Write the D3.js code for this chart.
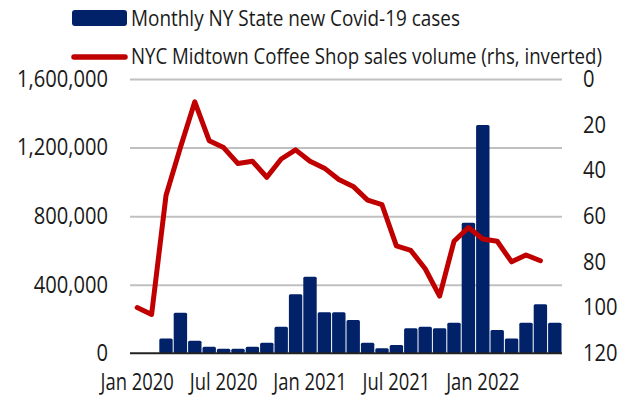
<!DOCTYPE html>
<html>
<head>
<meta charset="utf-8">
<script src="https://cdn.jsdelivr.net/npm/d3@7"></script>
<style>
  html, body { margin: 0; padding: 0; background: #fff; }
  svg { display: block; }
  text { font-family: "Open Sans", "Noto Sans", sans-serif; fill: #1a1a1a; }
</style>
</head>
<body>
<svg id="chart" width="638" height="400"></svg>
<script>
const months = ["Jan 2020","Feb 2020","Mar 2020","Apr 2020","May 2020","Jun 2020","Jul 2020","Aug 2020","Sep 2020","Oct 2020","Nov 2020","Dec 2020",
                "Jan 2021","Feb 2021","Mar 2021","Apr 2021","May 2021","Jun 2021","Jul 2021","Aug 2021","Sep 2021","Oct 2021","Nov 2021","Dec 2021",
                "Jan 2022","Feb 2022","Mar 2022","Apr 2022","May 2022","Jun 2022"];
const cases = [0,0,87000,237000,73000,38000,27000,27000,38000,62000,155000,344000,
               447000,239000,239000,194000,62000,29000,48000,146000,155000,146000,178000,762000,
               1332000,136000,87000,178000,286000,178000];
const sales = [100,103,51,30,10,27,30,37,36,43,35,31,
               36,39,44,47,53,55,73,75,83,95,71,65,
               70,71,80,77,79.5,null];
const xTickLabels = ["Jan 2020","Jul 2020","Jan 2021","Jul 2021","Jan 2022"];
const leftTicks = [0,400000,800000,1200000,1600000];
const rightTicks = [0,20,40,60,80,100,120];
const seriesNames = ["Monthly NY State new Covid-19 cases","NYC Midtown Coffee Shop sales volume (rhs, inverted)"];

const NAVY = "#012169", RED = "#c00000", GRID = "#c0c0c0";
const svg = d3.select("#chart");
const L = 130, R = 562, T = 79, B = 353.3;
const FS = 23;

function squeeze(sel, k) {
  sel.attr("font-size", FS).attr("font-family", null).attr("fill", "#1a1a1a")
    .attr("textLength", function() { return this.getComputedTextLength() * k; })
    .attr("lengthAdjust", "spacingAndGlyphs");
}

const x = d3.scaleBand().domain(months).range([L, R]).padding(0);
const y = d3.scaleLinear().domain([0, 1600000]).range([B, T]);
const y2 = d3.scaleLinear().domain([0, 120]).range([T, B]);

// gridlines
svg.append("g").attr("transform", `translate(${L},0)`)
  .call(d3.axisLeft(y).tickValues(leftTicks.filter(d => d > 0)).tickSize(-(R - L)).tickFormat(""))
  .call(g => g.select(".domain").remove())
  .call(g => g.selectAll("line").attr("stroke", GRID).attr("stroke-width", 2));

// bars
svg.append("g").selectAll("rect").data(months.map((m, i) => ({m, v: cases[i]})).filter(d => d.v > 0))
  .join("rect")
  .attr("x", d => x(d.m) + 0.5)
  .attr("width", x.bandwidth() - 1)
  .attr("y", d => y(d.v))
  .attr("height", d => B - y(d.v))
  .attr("rx", 1.5)
  .attr("fill", NAVY);

// baseline
svg.append("line").attr("x1", L).attr("x2", R).attr("y1", B).attr("y2", B)
  .attr("stroke", "#222").attr("stroke-width", 2);

// line
const line = d3.line()
  .defined((d, i) => sales[i] != null)
  .x((d, i) => x(months[i]) + x.bandwidth() / 2)
  .y((d, i) => y2(sales[i]));
svg.append("path").datum(sales).attr("d", line)
  .attr("fill", "none").attr("stroke", RED).attr("stroke-width", 5)
  .attr("stroke-linejoin", "round").attr("stroke-linecap", "round");

// left axis
svg.append("g").attr("transform", `translate(${L},0)`)
  .call(d3.axisLeft(y).tickValues(leftTicks).tickSize(0).tickPadding(22).tickFormat(d3.format(",")))
  .call(g => g.select(".domain").remove())
  .call(g => squeeze(g.selectAll("text"), 0.875));

// right axis
svg.append("g").attr("transform", `translate(${R},0)`)
  .call(d3.axisRight(y2).tickValues(rightTicks).tickSize(0).tickPadding(21))
  .call(g => g.select(".domain").remove())
  .call(g => squeeze(g.selectAll("text"), 0.875));

// x axis
svg.append("g").attr("transform", `translate(0,${B})`)
  .call(d3.axisBottom(x).tickValues(xTickLabels).tickSize(0).tickPadding(20))
  .call(g => g.select(".domain").remove())
  .call(g => squeeze(g.selectAll("text"), 0.8));

// legend
const lg = svg.append("g");
lg.append("rect").attr("x", 72).attr("y", 10).attr("width", 55).attr("height", 16).attr("rx", 3).attr("fill", NAVY);
lg.append("line").attr("x1", 74).attr("x2", 125).attr("y1", 57).attr("y2", 57)
  .attr("stroke", RED).attr("stroke-width", 5.5).attr("stroke-linecap", "round");
lg.append("text").attr("x", 131).attr("y", 26).attr("font-size", 22.5)
  .attr("textLength", 329).attr("lengthAdjust", "spacingAndGlyphs").text(seriesNames[0]);
lg.append("text").attr("x", 131).attr("y", 64).attr("font-size", 22.5)
  .attr("textLength", 471).attr("lengthAdjust", "spacingAndGlyphs").text(seriesNames[1]);
</script>
</body>
</html>
